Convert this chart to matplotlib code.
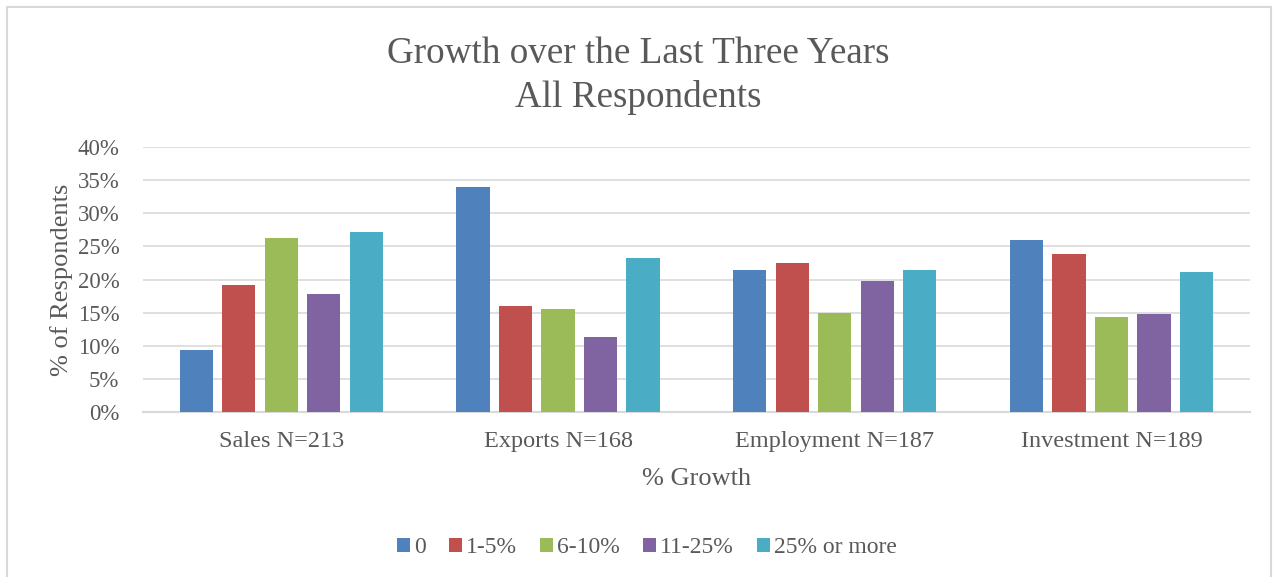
import matplotlib.pyplot as plt
import numpy as np
from matplotlib.patches import Rectangle

# growth by area, share of respondents in each band (%)
categories = ["Sales N=213", "Exports N=168", "Employment N=187", "Investment N=189"]
bands = ["0", "1-5%", "6-10%", "11-25%", "25% or more"]
growth_0 = [9.39, 33.93, 21.39, 25.93]
growth_1_5 = [19.25, 16.07, 22.46, 23.81]
growth_6_10 = [26.29, 15.48, 14.97, 14.29]
growth_11_25 = [17.84, 11.31, 19.79, 14.81]
growth_25_plus = [27.23, 23.21, 21.39, 21.16]
colors = ["#4f81bd", "#c0504d", "#9bbb59", "#8064a2", "#4bacc6"]

series = [growth_0, growth_1_5, growth_6_10, growth_11_25, growth_25_plus]
text_color = "#595959"
plt.rcParams["font.family"] = ["Liberation Serif", "DejaVu Serif"]

fig = plt.figure(figsize=(12.76, 5.77), dpi=100)
ax = fig.add_axes([0.112, 0.286, 0.8675, 0.459])

x = np.arange(len(categories))
pitch = 0.1535
width = 0.12
for i, (vals, band) in enumerate(zip(series, bands)):
    ax.bar(x + (i - 2) * pitch, vals, width, color=colors[i], label=band, zorder=3)

ax.set_xlim(-0.5, len(categories) - 0.5)
ax.set_ylim(0, 40)
ax.set_yticks(np.arange(0, 41, 5))
ax.set_yticklabels([f"{v}%" for v in range(0, 41, 5)])
ax.set_xticks(x)
ax.set_xticklabels(categories)
ax.tick_params(axis="both", length=0, labelsize=16.5, colors=text_color)
ax.tick_params(axis="x", labelsize=17.5, pad=14)
ax.tick_params(axis="y", pad=17)
ax.grid(axis="y", color="#d9d9d9", linewidth=1.2, zorder=0)
for s in ["top", "right", "left"]:
    ax.spines[s].set_visible(False)
ax.spines["bottom"].set_color("#d9d9d9")
ax.spines["bottom"].set_linewidth(1.5)

ax.set_ylabel("% of Respondents", fontsize=19, color=text_color, labelpad=3)
ax.set_xlabel("% Growth", fontsize=19, color=text_color, labelpad=11)

fig.text(0.5, 0.906, "Growth over the Last Three Years", ha="center", va="center",
         fontsize=26.7, color=text_color)
fig.text(0.5, 0.8315, "All Respondents", ha="center", va="center",
         fontsize=26.7, color=text_color)

leg = fig.legend(loc="center", bbox_to_anchor=(0.507, 0.0505), ncol=5, frameon=False,
                 fontsize=17, handlelength=0.55, handleheight=0.55, handletextpad=0.15,
                 columnspacing=1.0)
for t in leg.get_texts():
    t.set_color(text_color)

# chart border
fig.patches.append(Rectangle((7 / 1276, -0.01), 1264 / 1276, 1 - 7 / 577 + 0.01,
                             transform=fig.transFigure, fill=False,
                             edgecolor="#d9d9d9", linewidth=1.5))

fig.savefig("out.png", dpi=100)
